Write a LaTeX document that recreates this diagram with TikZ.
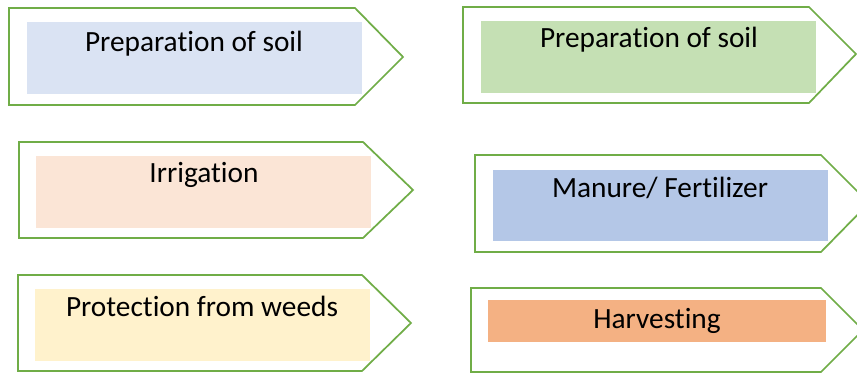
\documentclass[tikz,border=0pt]{standalone}
\usepackage{fontspec}
\setmainfont[RawFeature={-liga;-clig;-dlig;-calt}]{Carlito}
\usepackage{xcolor}
\definecolor{step-green}{HTML}{70AD47}
\definecolor{soil-blue}{HTML}{DAE3F3}
\definecolor{soil-green}{HTML}{C5E0B4}
\definecolor{water-peach}{HTML}{FBE5D6}
\definecolor{weed-yellow}{HTML}{FFF2CC}
\definecolor{manure-blue}{HTML}{B4C7E7}
\definecolor{harvest-orange}{HTML}{F4B183}
\usepackage{tikz}

\begin{document}
\begin{tikzpicture}[x=0.75pt, y=-0.75pt,
    stepline/.style={draw=step-green, line width=1.3pt, line join=miter},
    steptext/.style={anchor=base, inner sep=0pt, font=\fontsize{22}{26}\selectfont}]

    % Background
    \useasboundingbox[fill=white] (0, 0) rectangle (857, 374);

    % Preparation of soil (left)
    \draw[stepline] (9, 8) -- (355, 8) -- (403, 57) -- (355, 105) -- (9, 105) -- cycle;
    \fill[soil-blue] (27, 22) rectangle (362, 94);
    \node[steptext] (soilA) at (194, 52) {Preparation of soil};

    % Preparation of soil (right)
    \draw[stepline] (463, 7) -- (809, 7) -- (856, 54) -- (809, 103) -- (463, 103) -- cycle;
    \fill[soil-green] (481, 21) rectangle (816, 93);
    \node[steptext] (soilB) at (649, 48) {Preparation of soil};

    % Irrigation
    \draw[stepline] (19, 142) -- (363, 142) -- (413, 190) -- (363, 238) -- (19, 238) -- cycle;
    \fill[water-peach] (36, 156) rectangle (371, 228);
    \node[steptext] (irrigation) at (204, 183) {Irrigation};

    % Manure
    \draw[stepline] (475, 155) -- (821, 155) -- (869, 203) -- (821, 252) -- (475, 252) -- cycle;
    \fill[manure-blue] (493, 170) rectangle (828, 241);
    \node[steptext] (manure) at (660, 198) {Manure/ Fertilizer};

    % Protection from weeds
    \draw[stepline] (18, 275) -- (362, 275) -- (411, 323) -- (362, 371) -- (18, 371) -- cycle;
    \fill[weed-yellow] (35, 289) rectangle (370, 361);
    \node[steptext] (weeds) at (202, 316) {Protection from weeds};

    % Harvesting
    \draw[stepline] (471, 288) -- (821, 288) -- (863, 330) -- (821, 372) -- (471, 372) -- cycle;
    \fill[harvest-orange] (488, 300) rectangle (826, 342);
    \node[steptext] (harvest) at (657, 328) {Harvesting};

\end{tikzpicture}
\end{document}
